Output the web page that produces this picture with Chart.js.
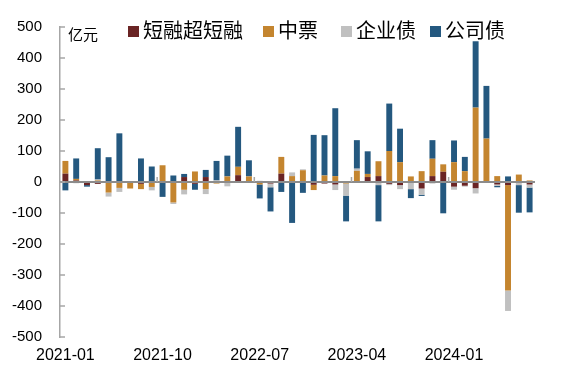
<!DOCTYPE html>
<html>
<head>
<meta charset="utf-8">
<script src="https://cdn.jsdelivr.net/npm/chart.js@4/dist/chart.umd.min.js"></script>
<style>
  html, body { margin: 0; padding: 0; background: #fff; }
  .wrap { position: relative; width: 569px; height: 376px; }
  canvas { position: absolute; left: 0; top: 0; }
  .unit { position: absolute; left: 68px; top: 25px; font: 15px "Noto Sans CJK SC", sans-serif; line-height: 18px; color: #000; }
  .legend { position: absolute; top: 19px; height: 22px; font: 20px "Noto Sans CJK SC", sans-serif; line-height: 22px; color: #000; white-space: nowrap; }
  .legend i { display: inline-block; width: 11px; height: 11px; margin-right: 4px; vertical-align: 1px; }
</style>
</head>
<body>
<div class="wrap">
  <canvas id="chart" width="569" height="376"></canvas>
  <div class="unit">亿元</div>
  <div class="legend" style="left:128px"><i style="background:#6a2424"></i>短融超短融</div>
  <div class="legend" style="left:263px"><i style="background:#c4852f"></i>中票</div>
  <div class="legend" style="left:341px"><i style="background:#c0c0c0"></i>企业债</div>
  <div class="legend" style="left:430px"><i style="background:#24587f"></i>公司债</div>
</div>
<script>
// months 2021-01 .. 2024-08
const labels = [
  "2021-01", "2021-02", "2021-03", "2021-04", "2021-05", "2021-06", "2021-07", "2021-08", "2021-09", "2021-10", "2021-11", "2021-12",
  "2022-01", "2022-02", "2022-03", "2022-04", "2022-05", "2022-06", "2022-07", "2022-08", "2022-09", "2022-10", "2022-11", "2022-12",
  "2023-01", "2023-02", "2023-03", "2023-04", "2023-05", "2023-06", "2023-07", "2023-08", "2023-09", "2023-10", "2023-11", "2023-12",
  "2024-01", "2024-02", "2024-03", "2024-04", "2024-05", "2024-06", "2024-07", "2024-08"
];

// net financing, 亿元
const shortTerm = [27, 5, -10, -6, 0, 0, -3, -6, 0, 0, 0, 16, -6, 16, 0, 3, 22, 0, 0, -5, 27, 0,
  0, -9, -5, -8, 0, 0, 16, 19, -6, -10, 0, -21, 19, 33, -15, -12, -20, 0, -8, -10, 0, -8];
const mtn = [41, 5, 0, 5, -34, -19, -18, -17, -16, 54, -66, -25, 34, -23, -5, 15, 27, 18, -8, 0, 54, 19,
  38, -17, 21, 19, -5, 36, 10, 48, 100, 64, 18, 35, 56, 24, 64, 35, 240, 140, 19, -340, 24, 5];
const enterprise = [0, -4, 0, 3, -13, -13, 0, 0, -11, 0, -5, -15, 0, -16, 5, -14, -3, 0, 4, -12, 0, 12,
  3, 0, 0, -18, -39, 7, 0, -10, -4, -13, -23, -20, -5, 0, -10, -3, -17, -3, -4, -66, -10, -10];
const corporate = [-27, 66, -5, 101, 80, 157, 0, 76, 50, -48, 21, 10, -19, 23, 63, 67, 129, 52, -45, -78, -32, -132,
  -35, 152, 130, 219, -83, 92, 73, -117, 153, 108, -29, -4, 60, -101, 70, 46, 214, 170, -5, 18, -89, -80];

const yTicks = [500, 400, 300, 200, 100, 0, -100, -200, -300, -400, -500];
const labelEvery = 9;

// zero line, inward y ticks, category tick marks on the zero line
const axisMarks = {
  id: "axisMarks",
  afterDatasetsDraw(chart) {
    const { ctx, chartArea, scales: { x, y } } = chart;
    const y0 = y.getPixelForValue(0);
    const step = x.getPixelForValue(1) - x.getPixelForValue(0);
    ctx.save();
    ctx.strokeStyle = "#8c8c8c";
    ctx.lineWidth = 2;
    ctx.beginPath();
    ctx.moveTo(chartArea.left, y0);
    ctx.lineTo(chartArea.right, y0);
    ctx.stroke();

    ctx.strokeStyle = "#a6a6a6";
    ctx.lineWidth = 1.5;
    ctx.beginPath();
    for (let i = labelEvery; i < labels.length; i += labelEvery) {
      const px = x.getPixelForValue(i) - step / 2;
      ctx.moveTo(px, y0);
      ctx.lineTo(px, y0 - 5);
    }
    yTicks.forEach(v => {
      const py = y.getPixelForValue(v);
      ctx.moveTo(chartArea.left, py);
      ctx.lineTo(chartArea.left + 5, py);
    });
    ctx.stroke();
    ctx.restore();
  }
};

const ctx = document.getElementById("chart");
new Chart(ctx, {
  type: "bar",
  data: {
    labels: labels,
    datasets: [
      { label: "短融超短融", data: shortTerm, backgroundColor: "#6a2424" },
      { label: "中票", data: mtn, backgroundColor: "#c4852f" },
      { label: "企业债", data: enterprise, backgroundColor: "#c0c0c0" },
      { label: "公司债", data: corporate, backgroundColor: "#24587f" },
    ],
  },
  options: {
    responsive: false,
    animation: false,
    devicePixelRatio: 1,
    datasets: { bar: { barPercentage: 0.55, categoryPercentage: 1 } },
    layout: { padding: { left: 0, right: 34, top: 25, bottom: 0 } },
    plugins: { legend: { display: false }, tooltip: { enabled: false } },
    scales: {
      x: {
        stacked: true,
        grid: { display: false, drawTicks: false },
        border: { display: false },
        ticks: {
          autoSkip: false,
          maxRotation: 0,
          padding: 9,
          color: "#000",
          font: { family: "'Liberation Sans', Arial, sans-serif", size: 16 },
          callback: (v, i) => (i % labelEvery === 0 ? labels[i] : ""),
        },
        afterFit: s => { s.height = 39; },
      },
      y: {
        stacked: true,
        min: -500,
        max: 500,
        grid: { display: false, drawTicks: false },
        border: { display: true, color: "#a6a6a6", width: 1.5 },
        ticks: {
          stepSize: 100,
          padding: 18,
          color: "#000",
          font: { family: "'Liberation Sans', Arial, sans-serif", size: 15 },
        },
        afterFit: s => { s.width = 60; },
      },
    },
  },
  plugins: [axisMarks],
});
</script>
</body>
</html>
